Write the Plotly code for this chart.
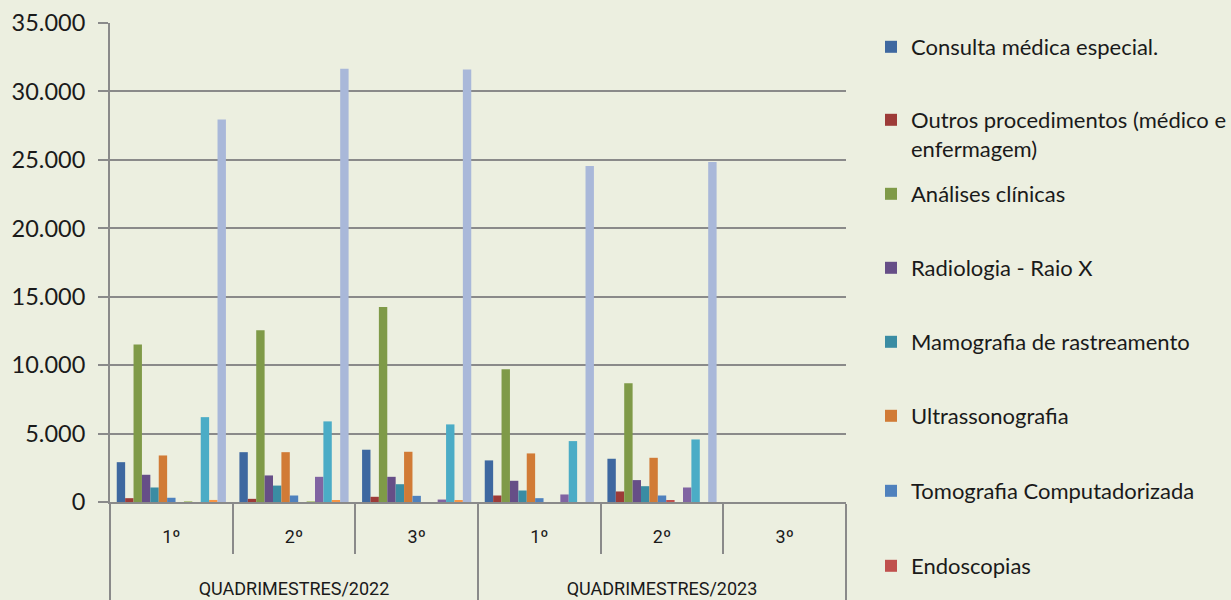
import plotly.graph_objects as go

# Quadrimester categories (outer level: year block, inner level: quadrimester)
years = ["QUADRIMESTRES/2022"] * 3 + ["QUADRIMESTRES/2023"] * 3
quads = ["1º", "2º", "3º", "1º", "2º", "3º"]

# Series values per quadrimester
consulta = [2910, 3640, 3820, 3040, 3160, 0]
outros = [280, 230, 380, 475, 770, 0]
analises = [11500, 12550, 14250, 9700, 8670, 0]
radiologia = [1990, 1940, 1840, 1550, 1600, 0]
mamografia = [1060, 1200, 1300, 840, 1155, 0]
ultrassom = [3400, 3640, 3670, 3550, 3230, 0]
tomografia = [310, 475, 450, 280, 475, 0]
endoscopias = [0, 0, 0, 0, 80, 0]
ressonancia = [60, 60, 0, 0, 0, 0]
eletrocardio = [0, 1840, 180, 550, 1060, 0]
fisioterapia = [6200, 5890, 5670, 4450, 4570, 0]
densitometria = [150, 100, 100, 0, 0, 0]
urgencia = [27950, 31650, 31600, 24550, 24850, 0]

series = [
    ("Consulta médica especial.", consulta, "#3E68A0", True),
    ("Outros procedimentos (médico e<br>enfermagem)", outros, "#9D3B38", True),
    ("Análises clínicas", analises, "#7F9A48", True),
    ("Radiologia - Raio X", radiologia, "#664E87", True),
    ("Mamografia de rastreamento", mamografia, "#3A8CA3", True),
    ("Ultrassonografia", ultrassom, "#D17B36", True),
    ("Tomografia Computadorizada", tomografia, "#4F81BD", True),
    ("Endoscopias", endoscopias, "#C0504D", True),
    ("Ressonância magnética", ressonancia, "#B5CA88", False),
    ("Eletrocardiografia", eletrocardio, "#8064A2", False),
    ("Fisioterapia", fisioterapia, "#4BACC6", False),
    ("Densitometria óssea", densitometria, "#F79646", False),
    ("Atendimentos de urgência", urgencia, "#A9B8D9", False),
]

# Legend entry centres (px from top) for the visible series
legend_rows = [47, 120, 194, 268, 342, 416, 491, 566]

W, H = 1231, 600
ML, MR, MT, MB = 110, 385, 23, 98
plot_w = W - ML - MR
plot_h = H - MT - MB

BG = "#ECEFE0"
GRID = "#8A8A8A"
FONT = "Lato"
CAT_FONT = "Roboto"

# inner labels carry blank extra lines so the year row sits lower
inner_labels = [q + "<br>\u00a0<br>\u00a0" for q in quads]

fig = go.Figure()
legend_layouts = {}
vis = 0
for name, vals, color, shown in series:
    kw = {}
    if shown:
        key = "legend" if vis == 0 else f"legend{vis + 1}"
        kw["legend"] = key
        top_px = legend_rows[vis] - 21
        legend_layouts[key] = dict(
            x=(871 - ML) / plot_w, xanchor="left",
            y=(H - MB - top_px) / plot_h, yanchor="top",
            bgcolor="rgba(0,0,0,0)",
            font=dict(family=FONT, size=22, color="#1A1A1A"),
            itemwidth=30, valign="top",
            traceorder="normal",
        )
        vis += 1
    fig.add_trace(go.Bar(
        x=[years, inner_labels], y=vals, name=name,
        marker=dict(color=color, line=dict(width=0)),
        showlegend=shown, **kw,
    ))

fig.update_layout(
    width=W, height=H,
    margin=dict(l=ML, r=MR, t=MT, b=MB, autoexpand=False),
    paper_bgcolor=BG, plot_bgcolor=BG,
    barmode="group", bargap=0.11, bargroupgap=0,
    separators=",.",
    font=dict(family=FONT, color="#1A1A1A"),
    **legend_layouts,
)

fig.update_yaxes(
    range=[0, 35000], dtick=5000, tickformat=",d",
    showgrid=True, gridcolor=GRID, gridwidth=2,
    showline=True, linecolor=GRID, linewidth=2,
    ticks="outside", ticklen=10, tickcolor=GRID, tickwidth=2,
    tickfont=dict(family=FONT, size=23.5, color="#1A1A1A"),
    ticklabelstandoff=8,
    zeroline=False, automargin=False,
)
fig.update_xaxes(
    type="multicategory",
    showline=True, linecolor=GRID, linewidth=2,
    ticks="outside", ticklen=50, tickcolor=GRID, tickwidth=2,
    showdividers=True, dividercolor=GRID, dividerwidth=2,
    tickfont=dict(family=CAT_FONT, size=18, color="#1A1A1A"),
    ticklabelstandoff=17,
    automargin=False,
)

fig.write_html("out.html")
